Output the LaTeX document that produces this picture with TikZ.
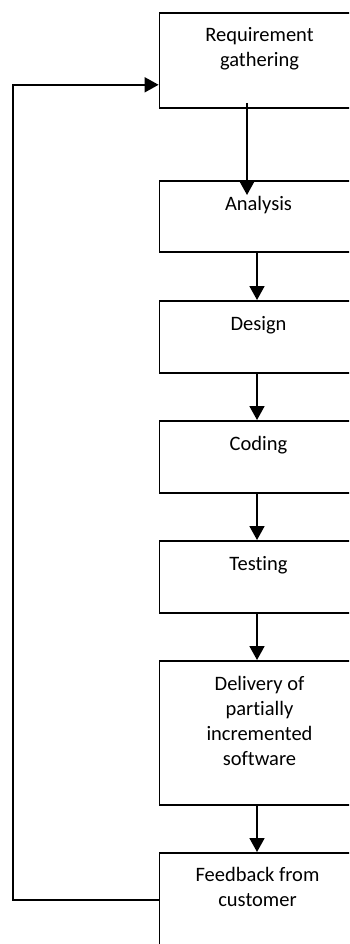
\documentclass[tikz,border=0pt]{standalone}
\usepackage{fontspec}
\setmainfont{Carlito}[Ligatures=NoCommon]
\usetikzlibrary{arrows.meta,calc}
\begin{document}
\begin{tikzpicture}[x=1pt,y=-1pt,
  box/.style={draw, line width=1.8pt, minimum width=200pt, inner sep=0pt, anchor=north},
  lbl/.style={anchor=base, align=center, inner sep=0pt, font=\fontsize{20.5}{25}\selectfont},
  arr/.style={line width=1.8pt, -{Triangle[width=15pt,length=14pt]}}]
\useasboundingbox (0,0) rectangle (349,944);
\clip (0,0) rectangle (349,944);
\node[box, minimum height=95pt]  (req) at (259.5,12) {};
\node[box, minimum height=71pt]  (ana) at (259.5,180) {};
\node[box, minimum height=72pt]  (des) at (259.5,300) {};
\node[box, minimum height=72pt]  (cod) at (259.5,420) {};
\node[box, minimum height=72pt]  (tes) at (259.5,540) {};
\node[box, minimum height=144pt] (del) at (259.5,660) {};
\node[box, minimum height=94pt]  (fb)  at (259.5,852) {};
\node[lbl] (reqt) at ($(req.north)+(0,55)$) {Requirement\\gathering};
\node[lbl] (anat) at ($(ana.north)+(-1,30.5)$) {Analysis};
\node[lbl] (dest) at ($(des.north)+(-1,30)$) {Design};
\node[lbl] (codt) at ($(cod.north)+(-1,30)$) {Coding};
\node[lbl] (test) at ($(tes.north)+(-1,30)$) {Testing};
\node[lbl] (delt) at ($(del.north)+(0,105)$) {Delivery of\\partially\\incremented\\software};
\node[lbl] (fbt)  at ($(fb.north)+(-2,54.5)$) {Feedback from\\customer};
\draw[arr] ($(req.south)+(-12.5,-6)$) -- ($(ana.north)+(-12.5,15)$);
\draw[arr] ($(ana.south)+(-2.5,0)$) -- ($(des.north)+(-2.5,0)$);
\draw[arr] ($(des.south)+(-2.5,0)$) -- ($(cod.north)+(-2.5,0)$);
\draw[arr] ($(cod.south)+(-2.5,0)$) -- ($(tes.north)+(-2.5,0)$);
\draw[arr] ($(tes.south)+(-2.5,0)$) -- ($(del.north)+(-2.5,0)$);
\draw[arr] ($(del.south)+(-2.5,0)$) -- ($(fb.north)+(-2.5,0)$);
\draw[arr] (fb.west) -- ++(-145.5,0) |- ($(req.south west)+(0,-24)$);
\end{tikzpicture}
\end{document}
